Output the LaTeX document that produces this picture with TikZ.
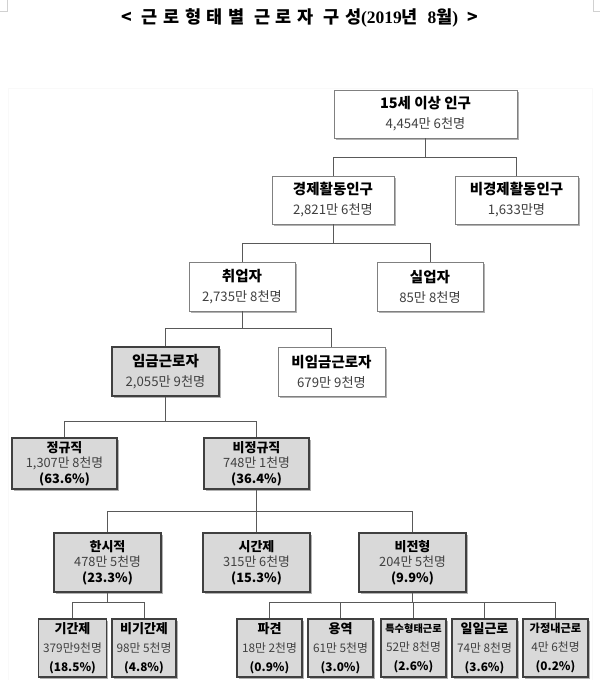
\documentclass[tikz,border=0pt]{standalone}
\usepackage{fontspec}
\setmainfont{Noto Sans CJK KR}
\newfontfamily\titlefont{Noto Sans CJK KR}
\newfontfamily\serifnum{Liberation Serif}
\usepackage{tikz}
\usetikzlibrary{shadows}
\usetikzlibrary{positioning}
\definecolor{linegray}{rgb}{0.35,0.35,0.35}
\definecolor{boxgray}{rgb}{0.85,0.85,0.85}
\definecolor{numgray}{rgb}{0.25,0.25,0.25}
\definecolor{markgray}{rgb}{0.82,0.82,0.82}

\newcommand{\twolabel}[2]{{\bfseries\fontsize{14.5}{\the\baselineskip}\selectfont #1}\\\textcolor{numgray}{#2}}
\newcommand{\threelabel}[4][13]{{\bfseries\fontsize{#1}{\the\baselineskip}\selectfont #2}\\\textcolor{numgray}{#3}\\{\bfseries #4}}

\tikzset{
  wbox/.style={draw=gray, fill=white, line width=0.8pt, align=center, inner sep=0pt,
    drop shadow={shadow xshift=1.5pt, shadow yshift=-1.5pt, fill=black, opacity=0.3}},
  gbox/.style={wbox, draw=black!75, fill=boxgray, line width=1.3pt},
  toprow/.style={font=\fontsize{13.2}{20}\selectfont},
  midrow/.style={font=\fontsize{12.8}{15.5}\selectfont},
  lowrow/.style={font=\fontsize{11.8}{19}\selectfont},
  link/.style={draw=linegray, line width=0.8pt}
}

\begin{document}
\begin{tikzpicture}[x=1pt, y=-1pt]
            \useasboundingbox (0,0) rectangle (600,680);
            \draw[markgray] (7,0) -- (7,11) -- (0,11);
            \draw[markgray] (593,0) -- (593,11) -- (600,11);
            \draw[gray!5] (8,680) -- (8,88) -- (592,88) -- (592,680);
            \node (title) at (300,18) {\titlefont\bfseries\fontsize{17.5}{18}\selectfont\addfontfeatures{LetterSpace=32}< 근로형태별 근로자 구성{\serifnum\bfseries(2019}년 {\serifnum\bfseries 8}월{\serifnum\bfseries)} >};

            \node[wbox, toprow, minimum width=183pt, minimum height=48pt] (pop) at (425.5,114) {\twolabel{15세 이상 인구}{4,454만 6천명}};
            \node[wbox, toprow, minimum width=122pt, minimum height=48pt] (econ) at (333,200) {\twolabel{경제활동인구}{2,821만 6천명}};
            \node[wbox, toprow, minimum width=123pt, minimum height=48pt] (nonecon) at (516.5,200) {\twolabel{비경제활동인구}{1,633만명}};
            \node[wbox, toprow, minimum width=106pt, minimum height=49pt] (emp) at (242,286.5) {\twolabel{취업자}{2,735만 8천명}};
            \node[wbox, toprow, minimum width=106pt, minimum height=49pt] (unemp) at (430,286.5) {\twolabel{실업자}{85만 8천명}};
            \node[gbox, toprow, minimum width=107pt, minimum height=49pt] (wage) at (165.5,371.5) {\twolabel{임금근로자}{2,055만 9천명}};
            \node[wbox, toprow, minimum width=107pt, minimum height=49pt] (nonwage) at (331.5,371.5) {\twolabel{비임금근로자}{679만 9천명}};

            \node[gbox, midrow, minimum width=105pt, minimum height=51pt] (regular) at (64.5,463.5) {\threelabel{정규직}{1,307만 8천명}{(63.6\%)}};
            \node[gbox, midrow, minimum width=105pt, minimum height=51pt] (irregular) at (256.5,463.5) {\threelabel{비정규직}{748만 1천명}{(36.4\%)}};
            \node[gbox, midrow, minimum width=107pt, minimum height=59pt] (temp) at (107.5,562.5) {\threelabel{한시적}{478만 5천명}{(23.3\%)}};
            \node[gbox, midrow, minimum width=107pt, minimum height=59pt] (part) at (256.5,562.5) {\threelabel{시간제}{315만 6천명}{(15.3\%)}};
            \node[gbox, midrow, minimum width=107pt, minimum height=59pt] (atyp) at (412.5,562.5) {\threelabel{비전형}{204만 5천명}{(9.9\%)}};

            \node[gbox, lowrow, minimum width=68pt, minimum height=58pt] (fixed) at (72.5,648) {\threelabel[13]{기간제}{379만9천명}{(18.5\%)}};
            \node[gbox, lowrow, minimum width=64pt, minimum height=58pt] (nonfixed) at (144,648) {\threelabel[13]{비기간제}{98만 5천명}{(4.8\%)}};
            \node[gbox, lowrow, minimum width=65pt, minimum height=58pt] (dispatch) at (269.5,648) {\threelabel[13]{파견}{18만 2천명}{(0.9\%)}};
            \node[gbox, lowrow, minimum width=65pt, minimum height=58pt] (service) at (340.5,648) {\threelabel[13]{용역}{61만 5천명}{(3.0\%)}};
            \node[gbox, lowrow, minimum width=65pt, minimum height=58pt] (special) at (413.5,648) {\threelabel[10.2]{특수형태근로}{52만 8천명}{(2.6\%)}};
            \node[gbox, lowrow, minimum width=65pt, minimum height=58pt] (daily) at (484.5,648) {\threelabel[13]{일일근로}{74만 8천명}{(3.6\%)}};
            \node[gbox, lowrow, minimum width=65pt, minimum height=58pt] (home) at (555.5,648) {\threelabel[11.2]{가정내근로}{4만 6천명}{(0.2\%)}};

            \draw[link] (pop.south) -- ++(0,19) -| (econ.north);
            \draw[link] (pop.south) ++(0,19) -| (nonecon.north);
            \draw[link] (econ.south) -- ++(0,19) -| (emp.north);
            \draw[link] (econ.south) ++(0,19) -| (unemp.north);
            \draw[link] (emp.south) -- ++(0,17) -| (wage.north);
            \draw[link] (emp.south) ++(0,17) -| (nonwage.north);
            \draw[link] (wage.south) -- ++(0,25) -| (regular.north);
            \draw[link] (wage.south) ++(0,25) -| (irregular.north);
            \draw[link] (irregular.south) -- ++(0,22) -| (temp.north);
            \draw[link] (irregular.south) ++(0,22) -| (part.north);
            \draw[link] (irregular.south) ++(0,22) -| (atyp.north);
            \draw[link] (temp.south) -- ++(0,10) -| (fixed.north);
            \draw[link] (temp.south) ++(0,10) -| (nonfixed.north);
            \foreach \kid in {dispatch,service,special,daily,home}
              \draw[link] (atyp.south) -- ++(0,10) -| (\kid.north);
\end{tikzpicture}
\end{document}
